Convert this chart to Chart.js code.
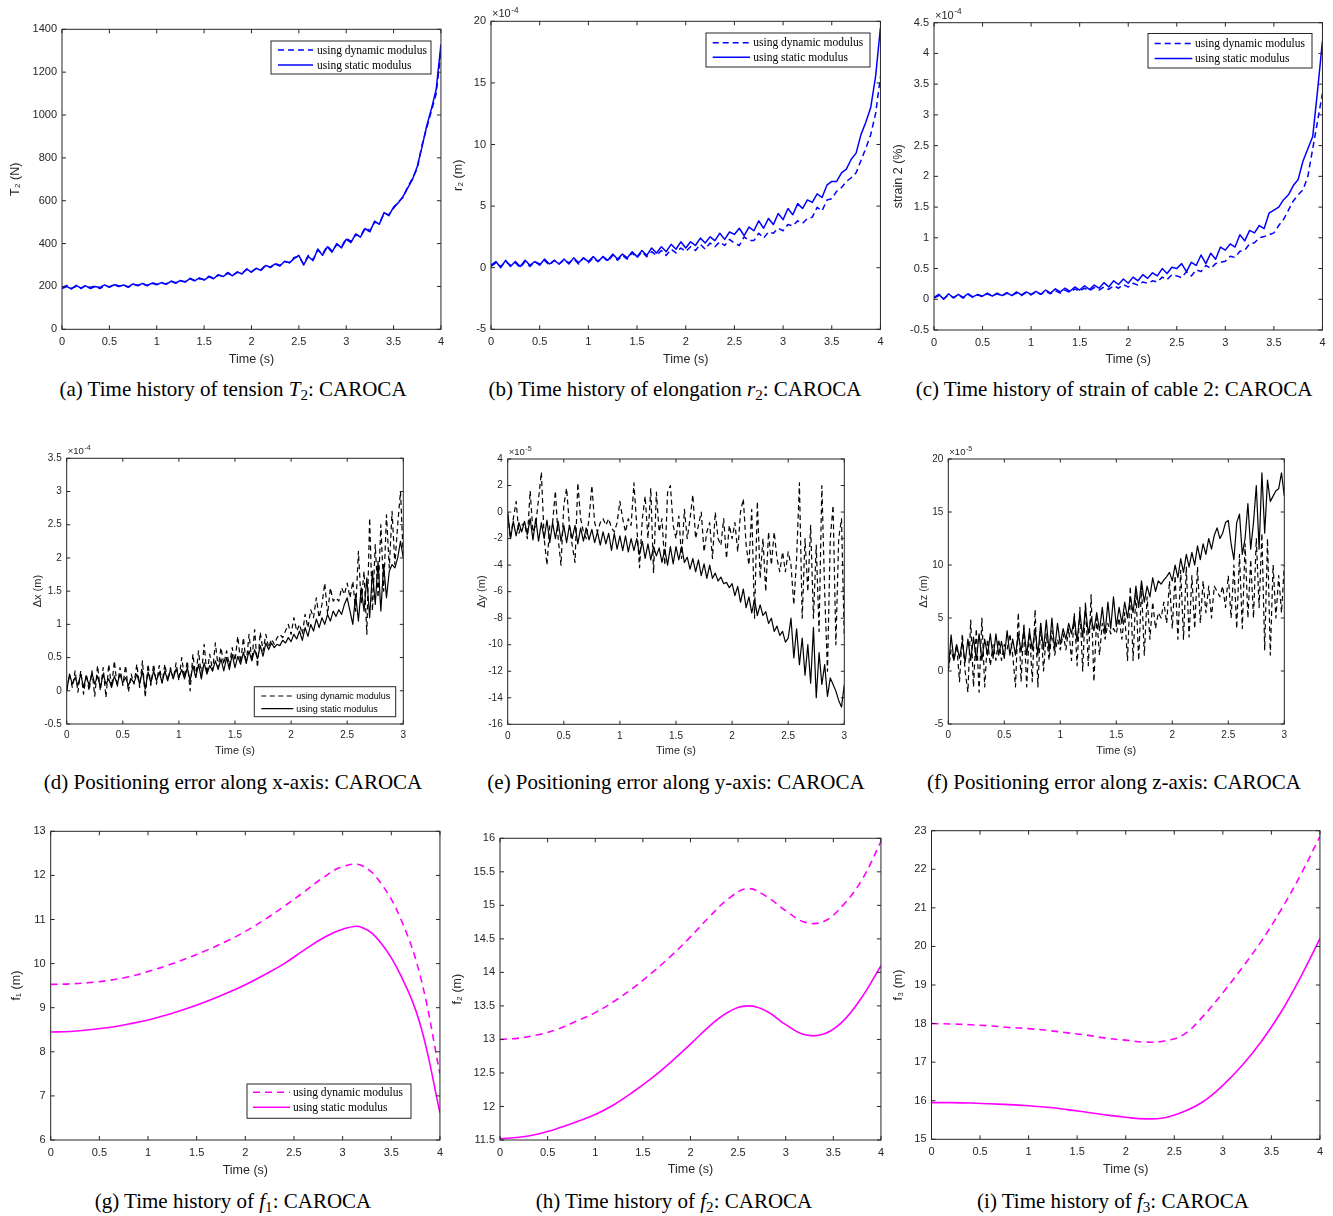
<!DOCTYPE html>
<html>
<head>
<meta charset="utf-8">
<script src="https://cdn.jsdelivr.net/npm/chart.js@4.4.1/dist/chart.umd.min.js"></script>
<style>
html, body { margin: 0; padding: 0; background: #fff; overflow: hidden; }
#page { position: relative; width: 1333px; height: 1216px; }
canvas { position: absolute; }
.cap { position: absolute; transform: translate(-50%, -50%); font: 21px "Liberation Serif", "Times New Roman", serif; white-space: nowrap; color: #000; }
.cap sub { font-size: 0.72em; vertical-align: -0.3em; line-height: 0; }
</style>
</head>
<body>
<div id="page"></div>
<script>
// sample times of the simulated signals
function sampleTimes(end, dt) {
    const n = Math.round(end / dt);
    return Array.from({ length: n + 1 }, (_, i) => +(i * dt).toFixed(3));
}
const time4 = sampleTimes(4, 0.05);
const time3 = sampleTimes(3, 0.025);
const timeF = [0, 0.2, 0.4, 0.6, 0.8, 1, 1.2, 1.4, 1.6, 1.8, 2, 2.2, 2.4, 2.6, 2.8, 3, 3.2, 3.4, 3.6, 3.8, 4];

// (a) tension T2 (N)
const tensionDyn = [
    195, 205, 192, 200, 190, 206, 195, 203, 190, 204,
    198, 210, 202, 205, 196, 210, 206, 212, 203, 218,
    210, 215, 212, 226, 218, 225, 222, 238, 228, 236,
    232, 248, 238, 252, 248, 265, 252, 266, 262, 280,
    270, 283, 278, 300, 288, 308, 298, 315, 312, 335,
    340, 305, 345, 325, 370, 350, 390, 365, 395, 385,
    425, 410, 440, 435, 475, 460, 500, 495, 540, 535,
    565, 595, 615, 665, 705, 750, 860, 940, 1020, 1100,
    1300];
const tensionStat = [
    190, 200, 188, 205, 192, 203, 190, 200, 195, 207,
    196, 208, 200, 207, 198, 212, 203, 214, 205, 215,
    208, 218, 210, 224, 215, 228, 220, 236, 226, 240,
    230, 245, 236, 255, 246, 262, 250, 268, 258, 282,
    266, 285, 275, 298, 290, 305, 295, 318, 310, 330,
    345, 300, 340, 320, 375, 345, 385, 360, 400, 380,
    420, 405, 445, 430, 470, 455, 505, 490, 545, 530,
    570, 590, 620, 660, 700, 760, 850, 950, 1030, 1120,
    1330];

// (b) elongation r2 (x1e-4 m)
const elongDyn = [
    0.1, 0.4, 0.1, 0.5, 0.2, 0.4, 0.0, 0.5, 0.1, 0.5,
    0.3, 0.6, 0.2, 0.6, 0.3, 0.6, 0.4, 0.7, 0.3, 0.8,
    0.4, 0.8, 0.5, 0.9, 0.5, 1.0, 0.6, 1.0, 0.7, 1.2,
    0.8, 1.3, 0.9, 1.3, 1.0, 1.4, 1.0, 1.5, 1.2, 1.6,
    1.3, 1.7, 1.4, 1.9, 1.5, 2.0, 1.7, 2.1, 1.8, 2.3,
    2.0, 1.8, 2.5, 2.2, 2.2, 2.8, 2.4, 2.9, 2.8, 3.2,
    3.0, 3.5, 3.4, 3.8, 3.6, 4.0, 4.1, 4.9, 4.6, 5.5,
    5.6, 6.2, 6.5, 7.0, 7.3, 7.7, 8.7, 9.7, 10.8, 12.5,
    15.5];
const elongStat = [
    0.2, 0.5, 0.0, 0.6, 0.1, 0.5, 0.1, 0.6, 0.2, 0.5,
    0.2, 0.7, 0.3, 0.6, 0.3, 0.7, 0.3, 0.8, 0.4, 0.8,
    0.5, 0.9, 0.5, 0.9, 0.6, 1.1, 0.7, 1.1, 0.8, 1.3,
    0.9, 1.4, 1.0, 1.6, 1.2, 1.7, 1.3, 1.9, 1.5, 2.1,
    1.6, 2.1, 1.8, 2.4, 2.0, 2.5, 2.2, 2.8, 2.3, 2.9,
    2.7, 3.2, 2.6, 3.3, 3.0, 3.8, 3.2, 4.0, 3.5, 4.4,
    3.9, 4.8, 4.3, 5.2, 4.8, 5.5, 5.3, 6.0, 5.7, 6.7,
    7.0, 7.0, 7.7, 8.0, 8.8, 9.3, 10.8, 11.8, 13.0, 15.5,
    19.5];

// (c) strain of cable 2 (x1e-4 %)
const strainDyn = [
    0.02, 0.06, 0.01, 0.07, 0.03, 0.07, 0.02, 0.08, 0.03, 0.07,
    0.04, 0.09, 0.05, 0.09, 0.05, 0.10, 0.06, 0.10, 0.06, 0.11,
    0.07, 0.12, 0.08, 0.13, 0.09, 0.14, 0.10, 0.15, 0.11, 0.17,
    0.13, 0.18, 0.14, 0.19, 0.15, 0.20, 0.16, 0.22, 0.18, 0.24,
    0.20, 0.26, 0.23, 0.28, 0.26, 0.30, 0.28, 0.36, 0.32, 0.40,
    0.38, 0.35, 0.45, 0.38, 0.48, 0.45, 0.55, 0.50, 0.58, 0.60,
    0.62, 0.70, 0.68, 0.78, 0.80, 0.90, 0.92, 1.00, 1.02, 1.05,
    1.08, 1.20, 1.30, 1.45, 1.60, 1.70, 1.78, 2.00, 2.45, 2.90,
    3.35];
const strainStat = [
    0.03, 0.08, 0.00, 0.09, 0.02, 0.08, 0.03, 0.09, 0.04, 0.08,
    0.05, 0.10, 0.05, 0.10, 0.06, 0.11, 0.06, 0.12, 0.07, 0.12,
    0.08, 0.13, 0.08, 0.15, 0.10, 0.17, 0.12, 0.18, 0.13, 0.20,
    0.15, 0.22, 0.16, 0.23, 0.18, 0.27, 0.20, 0.30, 0.24, 0.33,
    0.26, 0.36, 0.30, 0.40, 0.34, 0.43, 0.38, 0.50, 0.42, 0.52,
    0.50, 0.58, 0.45, 0.60, 0.55, 0.72, 0.58, 0.75, 0.65, 0.85,
    0.80, 0.90, 0.85, 1.05, 0.95, 1.12, 1.08, 1.20, 1.15, 1.40,
    1.45, 1.50, 1.62, 1.70, 1.85, 1.95, 2.25, 2.45, 2.65, 3.40,
    4.20];

// (d) positioning error along x (x1e-4 m)
const errXDyn = [
    0.00, 0.25, 0.05, 0.30, -0.02, 0.30, -0.05, 0.25, 0.00, 0.30,
    -0.08, 0.38, 0.00, 0.35, -0.10, 0.40, 0.05, 0.45, 0.05, 0.35,
    0.08, 0.38, -0.02, 0.25, 0.10, 0.40, 0.05, 0.45, -0.10, 0.40,
    0.08, 0.40, 0.10, 0.38, 0.12, 0.40, 0.15, 0.35, 0.18, 0.42,
    0.15, 0.50, 0.20, 0.45, 0.00, 0.55, 0.20, 0.60, 0.22, 0.70,
    0.25, 0.55, 0.30, 0.72, 0.35, 0.65, 0.40, 0.60, 0.38, 0.65,
    0.45, 0.82, 0.42, 0.80, 0.40, 0.85, 0.45, 0.92, 0.35, 0.88,
    0.60, 0.85, 0.65, 0.78, 0.70, 0.80, 0.85, 0.80, 0.90, 1.00,
    0.85, 1.10, 0.90, 1.00, 0.85, 1.15, 0.95, 1.22, 1.10, 1.40,
    1.10, 1.30, 1.62, 1.15, 1.55, 1.35, 1.40, 1.35, 1.55, 1.45,
    1.62, 1.40, 1.65, 1.20, 2.10, 1.30, 1.80, 0.85, 2.60, 1.20,
    2.20, 1.40, 2.50, 1.50, 2.65, 1.85, 2.70, 1.90, 2.50, 3.00,
    2.00];
const errXStat = [
    0.00, 0.25, 0.10, 0.20, 0.08, 0.25, 0.05, 0.22, 0.08, 0.27,
    0.10, 0.22, 0.05, 0.25, 0.10, 0.18, 0.05, 0.22, 0.10, 0.25,
    0.12, 0.20, 0.08, 0.18, 0.12, 0.25, 0.10, 0.30, 0.02, 0.28,
    0.12, 0.30, 0.15, 0.28, 0.12, 0.30, 0.15, 0.32, 0.18, 0.33,
    0.20, 0.32, 0.18, 0.35, 0.15, 0.38, 0.20, 0.40, 0.18, 0.42,
    0.25, 0.38, 0.30, 0.45, 0.32, 0.48, 0.30, 0.50, 0.32, 0.55,
    0.35, 0.52, 0.40, 0.58, 0.42, 0.60, 0.45, 0.62, 0.48, 0.68,
    0.52, 0.72, 0.62, 0.72, 0.65, 0.70, 0.68, 0.76, 0.72, 0.80,
    0.74, 0.85, 0.78, 0.90, 0.76, 0.95, 0.82, 1.00, 0.90, 1.08,
    0.95, 1.10, 1.00, 1.15, 1.05, 1.20, 1.12, 1.22, 1.15, 1.30,
    1.40, 1.20, 1.00, 1.45, 1.05, 1.55, 1.20, 1.70, 1.10, 1.80,
    1.30, 1.95, 1.20, 1.90, 1.40, 1.80, 1.90, 1.85, 2.00, 2.25,
    2.00];

// (e) positioning error along y (x1e-5 m)
const errYDyn = [
    -0.2, -2.0, -0.5, 0.8, -1.6, -1.0, -0.8, -2.0, 1.6, -1.5,
    -1.0, 1.0, 3.0, -2.0, -4.0, -1.0, -0.8, 1.6, -2.0, -4.0,
    0.5, 1.8, -1.0, -2.5, -3.8, 2.2, -0.5, -1.5, -2.0, -0.5,
    2.0, -0.8, -1.5, -0.8, -0.5, -1.0, -0.5, -1.2, -1.5, -0.8,
    0.8, -0.5, -1.5, -0.5, -1.0, 2.2, -1.0, -4.2, -0.5, 1.2,
    -2.0, 1.8, -4.6, 1.5, -1.5, -0.5, -4.0, 1.5, 2.0, -1.0,
    -2.0, -0.3, -3.5, 0.2, -2.0, -0.5, 1.3, -2.0, -1.0, 0.0,
    -3.0, -1.5, -0.8, -3.5, 0.0, -2.0, -2.5, -0.5, -3.5, -1.0,
    -2.0, -0.8, -3.0, 0.0, 1.0, -2.5, -4.0, 0.2, -8.0, 0.8,
    -5.0, -2.0, -6.0, -1.5, -4.0, -1.5, -3.5, -4.5, -3.0, -4.5,
    -3.0, -4.0, -7.0, -3.5, 2.2, -8.0, -2.0, -6.0, -1.0, -8.0,
    -2.5, -9.0, 2.0, -6.0, -12.0, -2.0, 0.5, -10.0, -2.0, -0.5,
    -9.5];
const errYStat = [
    0.0, -2.0, -0.7, -1.8, -0.8, -1.5, -0.7, -1.7, -0.5, -2.1,
    -0.5, -2.2, -0.8, -2.0, -0.6, -2.3, -0.8, -2.0, -0.7, -2.2,
    -1.0, -2.3, -1.0, -2.0, -1.0, -2.4, -1.2, -2.2, -1.2, -2.1,
    -1.3, -2.3, -1.5, -2.5, -1.5, -2.4, -1.6, -2.9, -1.6, -2.8,
    -1.8, -2.9, -1.8, -3.0, -2.0, -2.9, -2.0, -3.2, -2.2, -3.5,
    -2.4, -3.6, -2.6, -3.3, -2.7, -3.8, -2.8, -4.0, -2.6, -3.9,
    -2.6, -3.6, -2.6, -3.8, -3.4, -4.3, -3.5, -4.5, -3.6, -4.8,
    -3.9, -5.0, -4.0, -5.0, -4.6, -5.2, -4.9, -5.4, -5.3, -5.7,
    -5.4, -6.3, -5.6, -6.8, -5.8, -7.2, -6.4, -7.6, -6.6, -7.8,
    -7.0, -7.8, -7.5, -8.4, -8.0, -9.0, -8.6, -9.3, -9.0, -9.8,
    -9.5, -8.0, -11.0, -8.8, -11.5, -9.5, -12.3, -10.0, -12.9, -8.7,
    -14.0, -10.6, -13.0, -11.5, -13.9, -12.5, -13.0, -13.5, -14.2, -14.7,
    -13.0];

// (f) positioning error along z (x1e-5 m)
const errZDyn = [
    0.0, 2.0, 1.0, 2.5, -1.0, 3.5, 0.0, -2.0, 4.8, -1.5,
    4.0, -2.0, 5.0, -1.5, 3.0, 0.5, 2.5, 1.0, 3.0, 1.0,
    2.5, 2.0, 3.5, 1.5, -1.5, 5.5, -1.0, 4.5, -1.5, 4.0,
    -1.0, 5.8, -1.5, 4.5, 0.0, 3.5, 1.0, 3.8, 1.5, 3.0,
    2.0, 3.5, 2.0, 4.0, 1.0, 5.5, 0.5, 6.0, 0.0, 6.5,
    0.5, 7.2, -1.0, 5.0, 1.5, 4.5, 3.0, 4.5, 3.5, 4.0,
    3.5, 5.0, 3.0, 5.5, 1.0, 8.0, 1.0, 7.5, 1.0, 8.0,
    1.5, 7.0, 3.0, 6.5, 4.0, 5.5, 5.0, 6.5, 4.5, 8.5,
    4.0, 9.0, 3.0, 9.5, 3.0, 9.8, 3.2, 9.0, 4.0, 9.8,
    4.5, 8.5, 5.5, 8.0, 5.0, 8.0, 7.5, 7.0, 8.0, 6.0,
    9.0, 5.0, 10.0, 4.0, 11.0, 4.0, 12.0, 5.0, 10.5, 5.0,
    12.5, 6.0, 13.0, 2.0, 12.5, 1.5, 10.0, 5.0, 9.0, 5.5,
    10.0];
const errZStat = [
    0.0, 3.4, 1.0, 2.5, 1.2, 2.8, 0.8, 3.0, 1.0, 3.2,
    1.0, 3.5, 1.0, 3.0, 1.5, 3.5, 1.2, 3.5, 1.5, 2.8,
    1.2, 3.8, 1.5, 3.0, 1.5, 3.5, 1.8, 4.0, 1.5, 3.8,
    2.0, 4.0, 1.5, 4.5, 2.0, 4.8, 1.8, 5.0, 2.0, 4.5,
    2.5, 4.0, 3.0, 4.5, 3.5, 5.0, 2.8, 5.5, 3.2, 6.0,
    3.5, 5.0, 3.8, 5.5, 3.8, 6.0, 3.5, 6.5, 4.0, 7.0,
    4.2, 6.0, 4.5, 6.5, 5.0, 7.0, 5.5, 8.0, 6.0, 8.5,
    6.5, 8.0, 7.0, 8.8, 7.5, 8.5, 8.2, 8.6, 8.9, 9.3,
    8.5, 10.0, 8.8, 10.6, 9.3, 11.0, 9.8, 11.2, 10.0, 11.8,
    10.5, 12.0, 11.0, 12.5, 11.5, 12.8, 13.5, 12.5, 13.0, 14.0,
    14.2, 12.0, 10.5, 14.0, 14.8, 11.0, 12.5, 15.8, 11.5, 14.0,
    17.5, 11.5, 18.7, 13.0, 18.0, 16.0, 16.5, 17.0, 17.2, 18.7,
    16.5];

// (g)-(i) f1, f2, f3 (m), sampled every 0.2 s
const f1Dyn = [9.53, 9.54, 9.57, 9.62, 9.70, 9.82, 9.96, 10.12, 10.30, 10.50, 10.73, 11.00, 11.30, 11.62, 11.95, 12.20, 12.22, 11.80, 11.00, 9.70, 7.50];
const f1Stat = [8.45, 8.46, 8.50, 8.55, 8.63, 8.72, 8.84, 8.98, 9.14, 9.32, 9.52, 9.75, 10.00, 10.30, 10.58, 10.78, 10.82, 10.45, 9.72, 8.60, 6.62];
const f2Dyn = [13.00, 13.02, 13.07, 13.15, 13.27, 13.40, 13.57, 13.77, 14.00, 14.25, 14.53, 14.83, 15.10, 15.25, 15.13, 14.92, 14.75, 14.76, 15.00, 15.38, 15.95];
const f2Stat = [11.52, 11.54, 11.59, 11.67, 11.77, 11.88, 12.03, 12.22, 12.43, 12.67, 12.93, 13.20, 13.41, 13.50, 13.42, 13.22, 13.07, 13.08, 13.27, 13.63, 14.10];
const f3Dyn = [18.00, 17.99, 17.97, 17.94, 17.90, 17.87, 17.82, 17.76, 17.70, 17.62, 17.57, 17.52, 17.55, 17.72, 18.20, 18.80, 19.45, 20.15, 20.95, 21.85, 22.85];
const f3Stat = [15.95, 15.95, 15.94, 15.92, 15.90, 15.87, 15.83, 15.77, 15.70, 15.63, 15.57, 15.53, 15.56, 15.72, 15.98, 16.40, 16.92, 17.55, 18.30, 19.20, 20.20];

const legendLabels = ['using dynamic modulus', 'using static modulus'];

const SANS = '"Liberation Sans", Arial, Helvetica, sans-serif';
const SERIF = '"Liberation Serif", "Times New Roman", serif';
const AXIS = '#262626';

Chart.defaults.font.family = SANS;
Chart.defaults.color = AXIS;

const rowStyle = {
    1: { tick: 11, title: 12.5, exp: 11, tl: 4, legendFont: '11.5px ' + SERIF, lw: 1.5, dash: [6, 4], padTop: 26 },
    2: { tick: 10, title: 11, exp: 9.5, tl: 3.5, legendFont: '9px ' + SANS, lw: 1.2, dash: [5, 3.5], padTop: 24 },
    3: { tick: 11, title: 12.5, exp: 11, tl: 4, legendFont: '11.5px ' + SERIF, lw: 1.6, dash: [7, 5], padTop: 14 }
};

const panels = [
    { row: 1, plot: [62, 29.3, 442, 329.3], yTitleX: 15, xTitleY: 359.3, xPad: 6, yPad: 5, xMax: 4,
      y: [0, 1400, 200], yTitle: 'T\u2082 (N)', color: '#0000ff', t: time4, dyn: tensionDyn, stat: tensionStat,
      legend: { box: [271, 41, 160, 33], rows: [9, 24], line: [7, 42], text: 46 } },
    { row: 1, plot: [491, 21.3, 882, 329.3], yTitleX: 458, xTitleY: 360, xPad: 6.5, yPad: 5, xMax: 4,
      y: [-5, 20, 5], yTitle: 'r\u2082 (m)', exp: '-4', color: '#0000ff', t: time4, dyn: elongDyn, stat: elongStat,
      legend: { box: [706, 33, 164, 34], rows: [9.7, 24.3], line: [6.7, 44], text: 47.3 } },
    { row: 1, plot: [934, 22.7, 1324, 330], yTitleX: 898, xTitleY: 360, xPad: 6.5, yPad: 5, xMax: 4,
      y: [-0.5, 4.5, 0.5], yTitle: 'strain 2 (%)', exp: '-4', color: '#0000ff', t: time4, dyn: strainDyn, stat: strainStat,
      legend: { box: [1148, 33.5, 164, 34.5], rows: [10, 25], line: [6.7, 44.3], text: 47 } },
    { row: 2, plot: [66.7, 458.3, 403.3, 724], yTitleX: 37.3, xTitleY: 751, xPad: 5.5, yPad: 5, xMax: 3,
      y: [-0.5, 3.5, 0.5], yTitle: '\u0394x (m)', exp: '-4', color: '#000000', t: time3, dyn: errXDyn, stat: errXStat,
      legend: { box: [254.3, 686.7, 141.4, 30], rows: [9.3, 22], line: [7, 39], text: 42 } },
    { row: 2, plot: [507.7, 459, 844.3, 724.3], yTitleX: 481.7, xTitleY: 751, xPad: 5.5, yPad: 5, xMax: 3,
      y: [-16, 4, 2], yTitle: '\u0394y (m)', exp: '-5', color: '#000000', t: time3, dyn: errYDyn, stat: errYStat },
    { row: 2, plot: [948.3, 459, 1284.3, 724], yTitleX: 923.3, xTitleY: 751, xPad: 5.5, yPad: 5, xMax: 3,
      y: [-5, 20, 5], yTitle: '\u0394z (m)', exp: '-5', color: '#000000', t: time3, dyn: errZDyn, stat: errZStat },
    { row: 3, plot: [50.7, 831.3, 441, 1140], yTitleX: 16, xTitleY: 1171, xPad: 6, yPad: 5, xMax: 4,
      y: [6, 13, 1], yTitle: 'f\u2081 (m)', color: '#ff00ff', t: timeF, dyn: f1Dyn, stat: f1Stat, smooth: true,
      legend: { box: [247, 1084, 164, 34.3], rows: [8.3, 23.3], line: [6, 43], text: 46 } },
    { row: 3, plot: [500, 838.3, 881.5, 1140], yTitleX: 457, xTitleY: 1170, xPad: 6, yPad: 5, xMax: 4,
      y: [11.5, 16, 0.5], yTitle: 'f\u2082 (m)', color: '#ff00ff', t: timeF, dyn: f2Dyn, stat: f2Stat, smooth: true },
    { row: 3, plot: [931.5, 830.7, 1321, 1139.3], yTitleX: 898, xTitleY: 1170, xPad: 6, yPad: 5, xMax: 4,
      y: [15, 23, 1], yTitle: 'f\u2083 (m)', color: '#ff00ff', t: timeF, dyn: f3Dyn, stat: f3Stat, smooth: true }
];

const captions = [
    ['(a) Time history of tension <i>T</i><sub>2</sub>: CAROCA', 233, 389],
    ['(b) Time history of elongation <i>r</i><sub>2</sub>: CAROCA', 675, 389],
    ['(c) Time history of strain of cable 2: CAROCA', 1114, 389],
    ['(d) Positioning error along x-axis: CAROCA', 233, 782],
    ['(e) Positioning error along y-axis: CAROCA', 676, 782],
    ['(f) Positioning error along z-axis: CAROCA', 1114, 782],
    ['(g) Time history of <i>f</i><sub>1</sub>: CAROCA', 233, 1201],
    ['(h) Time history of <i>f</i><sub>2</sub>: CAROCA', 674, 1201],
    ['(i) Time history of <i>f</i><sub>3</sub>: CAROCA', 1113, 1201]
];

// MATLAB-like box, inward ticks, exponent label and in-axes legend
const matlabAxes = {
    id: 'matlabAxes',
    afterDraw(chart, args, o) {
        const { ctx, chartArea: a } = chart;
        const xs = chart.scales.x, ys = chart.scales.y;
        ctx.save();
        ctx.strokeStyle = AXIS;
        ctx.lineWidth = 1;
        ctx.setLineDash([]);
        ctx.strokeRect(a.left, a.top, a.right - a.left, a.bottom - a.top);
        ctx.beginPath();
        xs.ticks.forEach(t => {
            const px = xs.getPixelForValue(t.value);
            ctx.moveTo(px, a.bottom); ctx.lineTo(px, a.bottom - o.tl);
            ctx.moveTo(px, a.top); ctx.lineTo(px, a.top + o.tl);
        });
        ys.ticks.forEach(t => {
            const py = ys.getPixelForValue(t.value);
            ctx.moveTo(a.left, py); ctx.lineTo(a.left + o.tl, py);
            ctx.moveTo(a.right, py); ctx.lineTo(a.right - o.tl, py);
        });
        ctx.stroke();

        if (o.exp) {
            ctx.fillStyle = AXIS;
            ctx.textBaseline = 'alphabetic';
            ctx.textAlign = 'left';
            ctx.font = o.expSize + 'px ' + SANS;
            const bx = a.left + 1, by = a.top - 4;
            ctx.fillText('\u00d710', bx, by);
            const w = ctx.measureText('\u00d710').width;
            ctx.font = (o.expSize * 0.75) + 'px ' + SANS;
            ctx.fillText(o.exp, bx + w + 0.5, by - o.expSize * 0.42);
        }

        if (o.legend) {
            const L = o.legend;
            const bx = L.box[0] - o.origin[0], by = L.box[1] - o.origin[1];
            ctx.fillStyle = '#ffffff';
            ctx.fillRect(bx, by, L.box[2], L.box[3]);
            ctx.strokeStyle = AXIS;
            ctx.lineWidth = 1;
            ctx.strokeRect(bx, by, L.box[2], L.box[3]);
            o.items.forEach((it, i) => {
                const ry = by + L.rows[i];
                ctx.strokeStyle = it.color;
                ctx.lineWidth = it.width;
                ctx.setLineDash(it.dash);
                ctx.beginPath();
                ctx.moveTo(bx + L.line[0], ry);
                ctx.lineTo(bx + L.line[1], ry);
                ctx.stroke();
                ctx.setLineDash([]);
                ctx.fillStyle = '#000000';
                ctx.font = o.legendFont;
                ctx.textAlign = 'left';
                ctx.textBaseline = 'middle';
                ctx.fillText(it.label, bx + L.text, ry + 0.5);
            });
        }
        ctx.restore();
    }
};
Chart.register(matlabAxes);

const pts = (t, v) => t.map((x, i) => ({ x, y: v[i] }));
const fmt = v => String(+(+v).toFixed(3));

const page = document.getElementById('page');

captions.forEach(([html, cx, cy]) => {
    const d = document.createElement('div');
    d.className = 'cap';
    d.innerHTML = html;
    d.style.left = cx + 'px';
    d.style.top = cy + 'px';
    page.appendChild(d);
});

panels.forEach(p => {
    const s = rowStyle[p.row];
    const [pl, pt, pr, pb] = p.plot;
    const titleLH = s.title * 1.2;
    const cl = Math.round(p.yTitleX - titleLH / 2);
    const ct = Math.round(pt - s.padTop);
    const W = pl - cl;
    const H = p.xTitleY - pb + titleLH / 2;
    const cw = Math.ceil(pr - cl + 8);
    const ch = Math.ceil(pb - ct + H);
    const padTop = pt - ct;
    const padRight = cw - (pr - cl);
    const padBottom = ch - (pb - ct) - H;

    const cv = document.createElement('canvas');
    cv.width = cw; cv.height = ch;
    cv.style.left = cl + 'px'; cv.style.top = ct + 'px';
    cv.style.width = cw + 'px'; cv.style.height = ch + 'px';
    page.appendChild(cv);

    const base = {
        borderColor: p.color, borderWidth: s.lw, pointRadius: 0, fill: false,
        tension: p.smooth ? 0.4 : 0, borderJoinStyle: 'round'
    };

    new Chart(cv, {
        type: 'line',
        data: {
            datasets: [
                { ...base, label: legendLabels[0], data: pts(p.t, p.dyn), borderDash: s.dash },
                { ...base, label: legendLabels[1], data: pts(p.t, p.stat) }
            ]
        },
        options: {
            responsive: false,
            animation: false,
            events: [],
            layout: { padding: { top: padTop, right: padRight, bottom: padBottom, left: 0 } },
            plugins: {
                legend: { display: false },
                tooltip: { enabled: false },
                matlabAxes: {
                    tl: s.tl, exp: p.exp || null, expSize: s.exp,
                    origin: [cl, ct], legend: p.legend || null, legendFont: s.legendFont,
                    items: legendLabels.map((label, i) => ({
                        label, color: p.color, width: s.lw, dash: i === 0 ? s.dash : []
                    }))
                }
            },
            scales: {
                x: {
                    type: 'linear', min: 0, max: p.xMax,
                    grid: { display: false, drawTicks: false, tickLength: 0 },
                    border: { display: false },
                    ticks: { stepSize: 0.5, autoSkip: false, maxRotation: 0, padding: p.xPad,
                             font: { size: s.tick }, color: AXIS, callback: fmt },
                    title: { display: true, text: 'Time (s)', font: { size: s.title }, color: AXIS, padding: 0 },
                    afterFit(scale) { scale.height = H; }
                },
                y: {
                    type: 'linear', min: p.y[0], max: p.y[1],
                    grid: { display: false, drawTicks: false, tickLength: 0 },
                    border: { display: false },
                    ticks: { stepSize: p.y[2], autoSkip: false, maxTicksLimit: 30, padding: p.yPad,
                             font: { size: s.tick }, color: AXIS, callback: fmt },
                    title: { display: true, text: p.yTitle, font: { size: s.title }, color: AXIS, padding: 0 },
                    afterFit(scale) { scale.width = W; }
                }
            }
        }
    });
});
</script>
</body>
</html>
